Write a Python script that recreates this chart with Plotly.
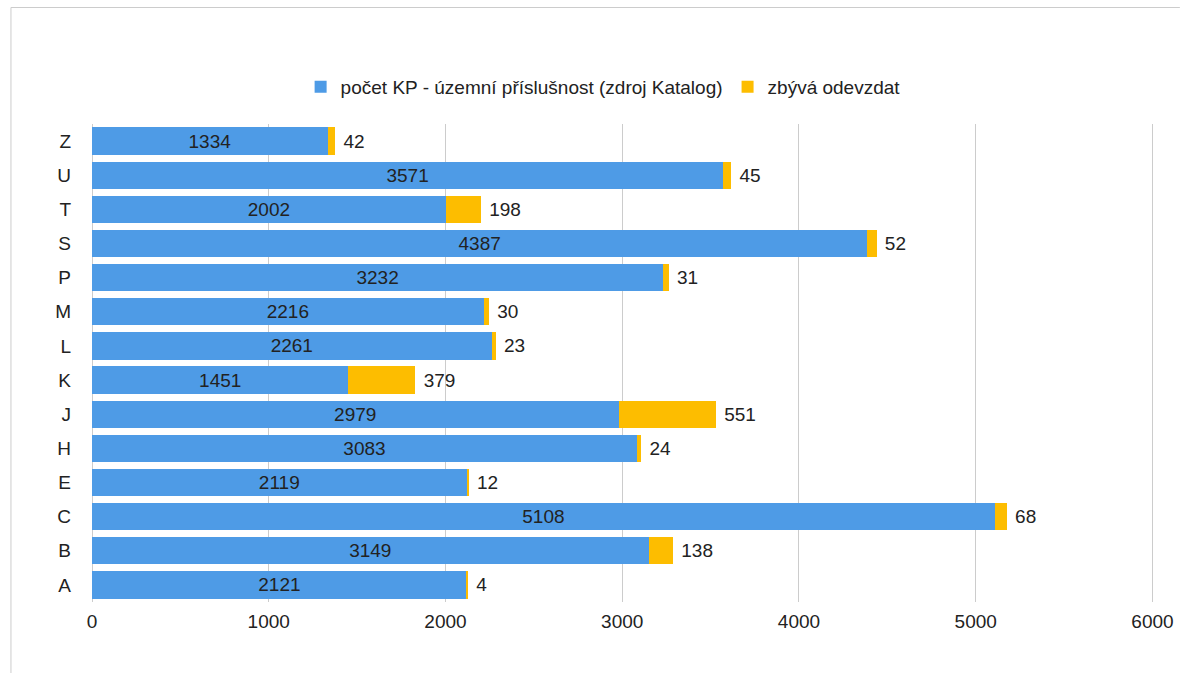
import plotly.graph_objects as go

categories = ["A", "B", "C", "E", "H", "J", "K", "L", "M", "P", "S", "T", "U", "Z"]
pocet_kp = [2121, 3149, 5108, 2119, 3083, 2979, 1451, 2261, 2216, 3232, 4387, 2002, 3571, 1334]
zbyva = [4, 138, 68, 12, 24, 551, 379, 23, 30, 31, 52, 198, 45, 42]
x_ticks = [0, 1000, 2000, 3000, 4000, 5000, 6000]

W, H = 1186, 673
L, R, T, B = 92, 24, 124, 71
pw, ph = W - L - R, H - T - B

def px_x(px):
    return (px - L) / pw

def px_y(py):
    return (H - B - py) / ph

FONT = "Liberation Sans, Arial, sans-serif"
TXT = "#222222"
FS = 19

fig = go.Figure()
fig.add_trace(go.Bar(
    y=categories, x=pocet_kp, orientation="h",
    name="počet KP - územní příslušnost (zdroj Katalog)",
    marker=dict(color="#4e9be6", line=dict(width=0)),
    text=[str(v) for v in pocet_kp], textposition="inside",
    insidetextanchor="middle",
    textfont=dict(family=FONT, size=FS, color=TXT),
    hoverinfo="x+y",
))
fig.add_trace(go.Bar(
    y=categories, x=zbyva, orientation="h",
    name="zbývá odevzdat",
    marker=dict(color="#fdbd00", line=dict(width=0)),
    text=[" " + str(v) for v in zbyva], textposition="outside",
    textfont=dict(family=FONT, size=FS, color=TXT),
    cliponaxis=False,
    hoverinfo="x+y",
))

fig.update_layout(
    width=W, height=H,
    margin=dict(l=L, r=R, t=T, b=B, pad=0),
    barmode="stack", bargap=0.2,
    plot_bgcolor="white", paper_bgcolor="white",
    font=dict(family=FONT, size=FS, color=TXT),
    legend=dict(
        orientation="h", x=px_x(606), xanchor="center",
        y=px_y(87), yanchor="middle",
        font=dict(family=FONT, size=FS, color=TXT),
        traceorder="normal",
    ),
    xaxis=dict(
        range=[0, 6020], tickvals=x_ticks, ticktext=[str(v) for v in x_ticks],
        showgrid=True, gridcolor="#cccccc", gridwidth=1,
        zeroline=True, zerolinecolor="#cccccc", zerolinewidth=1,
        showline=False, ticks="", ticklabelstandoff=6,
        tickfont=dict(family=FONT, size=FS, color=TXT),
        fixedrange=True,
    ),
    yaxis=dict(
        categoryorder="array", categoryarray=categories,
        showgrid=False, zeroline=False, showline=False, ticks="",
        ticklabelstandoff=20,
        tickfont=dict(family=FONT, size=FS, color=TXT),
        fixedrange=True,
    ),
    shapes=[
        dict(type="line", xref="paper", yref="paper",
             x0=px_x(10.5), x1=px_x(1186), y0=px_y(7.5), y1=px_y(7.5),
             line=dict(color="#cccccc", width=1)),
        dict(type="line", xref="paper", yref="paper",
             x0=px_x(10.5), x1=px_x(10.5), y0=px_y(7.5), y1=px_y(673),
             line=dict(color="#cccccc", width=1)),
    ],
)

fig.write_html(
    "out.html",
    config={"displayModeBar": False},
    post_script="document.body.style.margin='0px';document.body.style.overflow='hidden';",
)
